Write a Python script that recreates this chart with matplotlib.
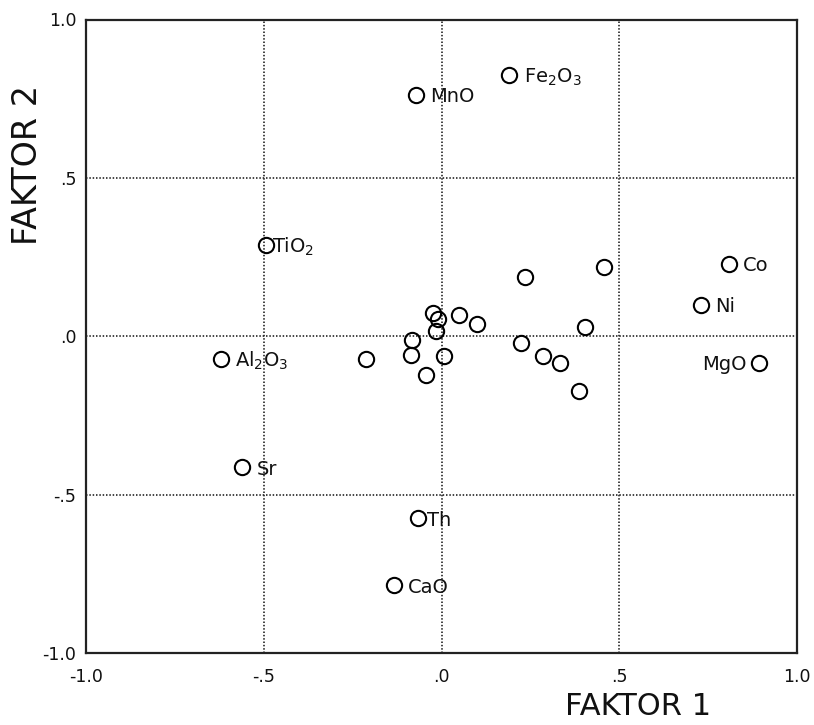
import matplotlib
matplotlib.use("Agg")
import matplotlib.pyplot as plt
from matplotlib import font_manager

# Labelled variables
lab_names = ["MnO", "Fe2O3", "TiO2", "Co", "Ni", "MgO", "Al2O3", "Sr", "Th", "CaO"]
lab_text = ["MnO", r"Fe$_\mathregular{2}$O$_\mathregular{3}$", r"TiO$_\mathregular{2}$",
            "Co", "Ni", "MgO", r"Al$_\mathregular{2}$O$_\mathregular{3}$", "Sr", "Th", "CaO"]
lab_f1 = [-0.072, 0.19, -0.495, 0.808, 0.73, 0.893, -0.621, -0.56, -0.065, -0.133]
lab_f2 = [0.763, 0.825, 0.289, 0.229, 0.10, -0.083, -0.073, -0.413, -0.574, -0.786]
lab_dx = [10.5, 10.5, 5.0, 10, 10.5, -9.0, 10.5, 10, 6.0, 10]   # label offset (pt)

# Unlabelled points
pt_f1 = [-0.213, -0.084, -0.086, -0.044, -0.025, -0.011, -0.016, 0.008,
         0.05, 0.10, 0.225, 0.285, 0.334, 0.386, 0.404, 0.234, 0.456]
pt_f2 = [-0.071, -0.012, -0.06, -0.123, 0.074, 0.056, 0.018, -0.062,
         0.067, 0.039, -0.02, -0.062, -0.083, -0.172, 0.029, 0.187, 0.22]

ticks = [-1.0, -0.5, 0.0, 0.5, 1.0]
tick_labels = ["-1.0", "-.5", ".0", ".5", "1.0"]

names = {f.name for f in font_manager.fontManager.ttflist}
lab_family = "Liberation Sans Narrow" if "Liberation Sans Narrow" in names else "DejaVu Sans"
lab_size = 16 if lab_family == "Liberation Sans Narrow" else 14

fig = plt.figure(figsize=(8.14, 7.25), dpi=100)
ax = fig.add_axes([86/814, (725-653)/725, (797-86)/814, (653-19.5)/725])

ax.set_xlim(-1.0, 1.0)
ax.set_ylim(-1.0, 1.0)

for v in [-0.5, 0.0, 0.5]:
    ax.axvline(v, color="#222222", lw=1.2, ls=(0, (0.9, 1.1)), zorder=1)
    ax.axhline(v, color="#222222", lw=1.2, ls=(0, (0.9, 1.1)), zorder=1)

mk = dict(marker="o", ms=11, mfc="none", mec="black", mew=1.5, ls="none", zorder=3)
ax.plot(pt_f1, pt_f2, **mk)
ax.plot(lab_f1, lab_f2, **mk)

for t, x, y, dx in zip(lab_text, lab_f1, lab_f2, lab_dx):
    ax.annotate(t, (x, y), xytext=(dx, -5.5), textcoords="offset points",
                ha="left" if dx > 0 else "right", va="baseline",
                fontsize=lab_size, family=lab_family, color="#111111", zorder=4)

ax.set_xticks(ticks)
ax.set_xticklabels(tick_labels)
ax.set_yticks(ticks)
ax.set_yticklabels(tick_labels)
ax.tick_params(length=0, labelsize=12.5, colors="#111111")
ax.tick_params(axis="x", pad=11)
ax.tick_params(axis="y", pad=7)

for s in ax.spines.values():
    s.set_linewidth(1.6)
    s.set_color("#222222")

ax.set_xlabel("FAKTOR 1", fontsize=22, color="#111111")
ax.xaxis.set_label_coords(0.776, -0.084)
ax.xaxis.label.set_va("center")
ax.set_ylabel("FAKTOR 2", fontsize=24, color="#111111")
ax.yaxis.set_label_coords(-0.082, 0.77)
ax.yaxis.label.set_va("center")

fig.savefig("out.png", dpi=100)
